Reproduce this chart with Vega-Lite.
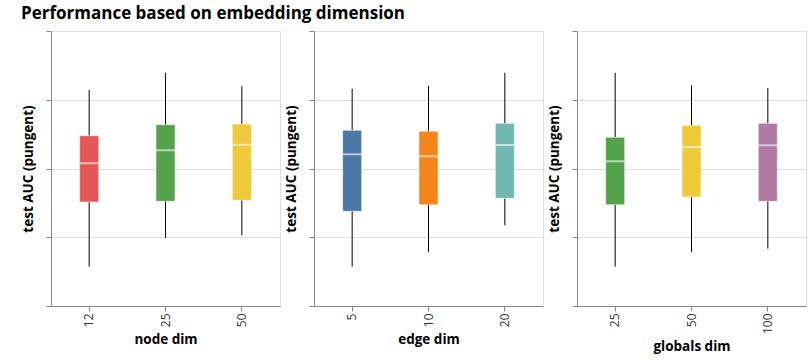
{
  "$schema": "https://vega.github.io/schema/vega-lite/v6.json",
  "padding": {"left": 21, "top": 5, "right": 5, "bottom": 5},
  "title": {"text": "Performance based on embedding dimension", "anchor": "start", "fontSize": 17, "fontWeight": "bold", "font": "Open Sans", "offset": 7},
  "datasets": {
    "stats": [
      {"panel": "node dim", "dim": "12", "lo": 0.5572, "q1": 0.6513, "med": 0.7076, "q3": 0.7477, "hi": 0.8142},
      {"panel": "node dim", "dim": "25", "lo": 0.5989, "q1": 0.6523, "med": 0.7265, "q3": 0.7637, "hi": 0.8393},
      {"panel": "node dim", "dim": "50", "lo": 0.6028, "q1": 0.6537, "med": 0.7346, "q3": 0.7647, "hi": 0.8196},
      {"panel": "edge dim", "dim": "5", "lo": 0.5572, "q1": 0.6377, "med": 0.7207, "q3": 0.7556, "hi": 0.8161},
      {"panel": "edge dim", "dim": "10", "lo": 0.5781, "q1": 0.6473, "med": 0.7177, "q3": 0.7541, "hi": 0.8204},
      {"panel": "edge dim", "dim": "20", "lo": 0.6174, "q1": 0.6566, "med": 0.7342, "q3": 0.7657, "hi": 0.8393},
      {"panel": "globals dim", "dim": "25", "lo": 0.5572, "q1": 0.6473, "med": 0.7105, "q3": 0.7454, "hi": 0.8393},
      {"panel": "globals dim", "dim": "50", "lo": 0.5781, "q1": 0.6585, "med": 0.7313, "q3": 0.7628, "hi": 0.8210},
      {"panel": "globals dim", "dim": "100", "lo": 0.5834, "q1": 0.6523, "med": 0.7337, "q3": 0.7657, "hi": 0.8171}
    ]
  },
  "spacing": 3,
  "hconcat": [
    {
      "width": 229, "height": 275,
      "data": {"name": "stats"},
      "transform": [{"filter": "datum.panel === 'node dim'"}],
      "encoding": {
        "x": {"field": "dim", "type": "nominal", "sort": ["12", "25", "50"], "title": "node dim"}
      },
      "layer": [
        {"mark": {"type": "rule", "color": "black"}, "encoding": {"y": {"field": "lo", "type": "quantitative", "scale": {"domain": [0.5, 0.9], "nice": false}, "axis": {"values": [0.5, 0.6, 0.7, 0.8, 0.9], "labels": false}, "title": "test AUC (pungent)"}, "y2": {"field": "hi"}}},
        {"mark": {"type": "bar", "size": 19, "stroke": "white", "strokeOpacity": 0.5, "strokeWidth": 1}, "encoding": {"y": {"field": "q1", "type": "quantitative"}, "y2": {"field": "q3"}, "color": {"field": "dim", "type": "nominal", "legend": null, "scale": {"domain": ["5", "10", "12", "20", "25", "50", "100"], "range": ["#4c78a8", "#f58518", "#e45756", "#72b7b2", "#54a24b", "#eeca3b", "#b279a2"]}}}},
        {"mark": {"type": "tick", "size": 19, "color": "white", "opacity": 0.6, "thickness": 2}, "encoding": {"y": {"field": "med", "type": "quantitative"}}}
      ]
    },
    {
      "width": 229, "height": 275,
      "data": {"name": "stats"},
      "transform": [{"filter": "datum.panel === 'edge dim'"}],
      "encoding": {
        "x": {"field": "dim", "type": "nominal", "sort": ["5", "10", "20"], "title": "edge dim"}
      },
      "layer": [
        {"mark": {"type": "rule", "color": "black"}, "encoding": {"y": {"field": "lo", "type": "quantitative", "scale": {"domain": [0.5, 0.9], "nice": false}, "axis": {"values": [0.5, 0.6, 0.7, 0.8, 0.9], "labels": false}, "title": "test AUC (pungent)"}, "y2": {"field": "hi"}}},
        {"mark": {"type": "bar", "size": 19, "stroke": "white", "strokeOpacity": 0.5, "strokeWidth": 1}, "encoding": {"y": {"field": "q1", "type": "quantitative"}, "y2": {"field": "q3"}, "color": {"field": "dim", "type": "nominal", "legend": null, "scale": {"domain": ["5", "10", "12", "20", "25", "50", "100"], "range": ["#4c78a8", "#f58518", "#e45756", "#72b7b2", "#54a24b", "#eeca3b", "#b279a2"]}}}},
        {"mark": {"type": "tick", "size": 19, "color": "white", "opacity": 0.6, "thickness": 2}, "encoding": {"y": {"field": "med", "type": "quantitative"}}}
      ]
    },
    {
      "width": 229, "height": 275,
      "data": {"name": "stats"},
      "transform": [{"filter": "datum.panel === 'globals dim'"}],
      "encoding": {
        "x": {"field": "dim", "type": "nominal", "sort": ["25", "50", "100"], "title": "globals dim"}
      },
      "layer": [
        {"mark": {"type": "rule", "color": "black"}, "encoding": {"y": {"field": "lo", "type": "quantitative", "scale": {"domain": [0.5, 0.9], "nice": false}, "axis": {"values": [0.5, 0.6, 0.7, 0.8, 0.9], "labels": false}, "title": "test AUC (pungent)"}, "y2": {"field": "hi"}}},
        {"mark": {"type": "bar", "size": 19, "stroke": "white", "strokeOpacity": 0.5, "strokeWidth": 1}, "encoding": {"y": {"field": "q1", "type": "quantitative"}, "y2": {"field": "q3"}, "color": {"field": "dim", "type": "nominal", "legend": null, "scale": {"domain": ["5", "10", "12", "20", "25", "50", "100"], "range": ["#4c78a8", "#f58518", "#e45756", "#72b7b2", "#54a24b", "#eeca3b", "#b279a2"]}}}},
        {"mark": {"type": "tick", "size": 19, "color": "white", "opacity": 0.6, "thickness": 2}, "encoding": {"y": {"field": "med", "type": "quantitative"}}}
      ]
    }
  ],
  "config": {
    "font": "Open Sans",
    "view": {"stroke": "#ddd"},
    "axis": {"domainColor": "#888", "tickColor": "#888", "gridColor": "#e0e0e0", "labelFont": "Open Sans", "titleFont": "Open Sans", "titleFontSize": 13.5, "labelFontSize": 12, "labelColor": "#333"},
    "axisY": {"titlePadding": 10},
    "axisX": {"labelAngle": -90, "titlePadding": 6}
  }
}
